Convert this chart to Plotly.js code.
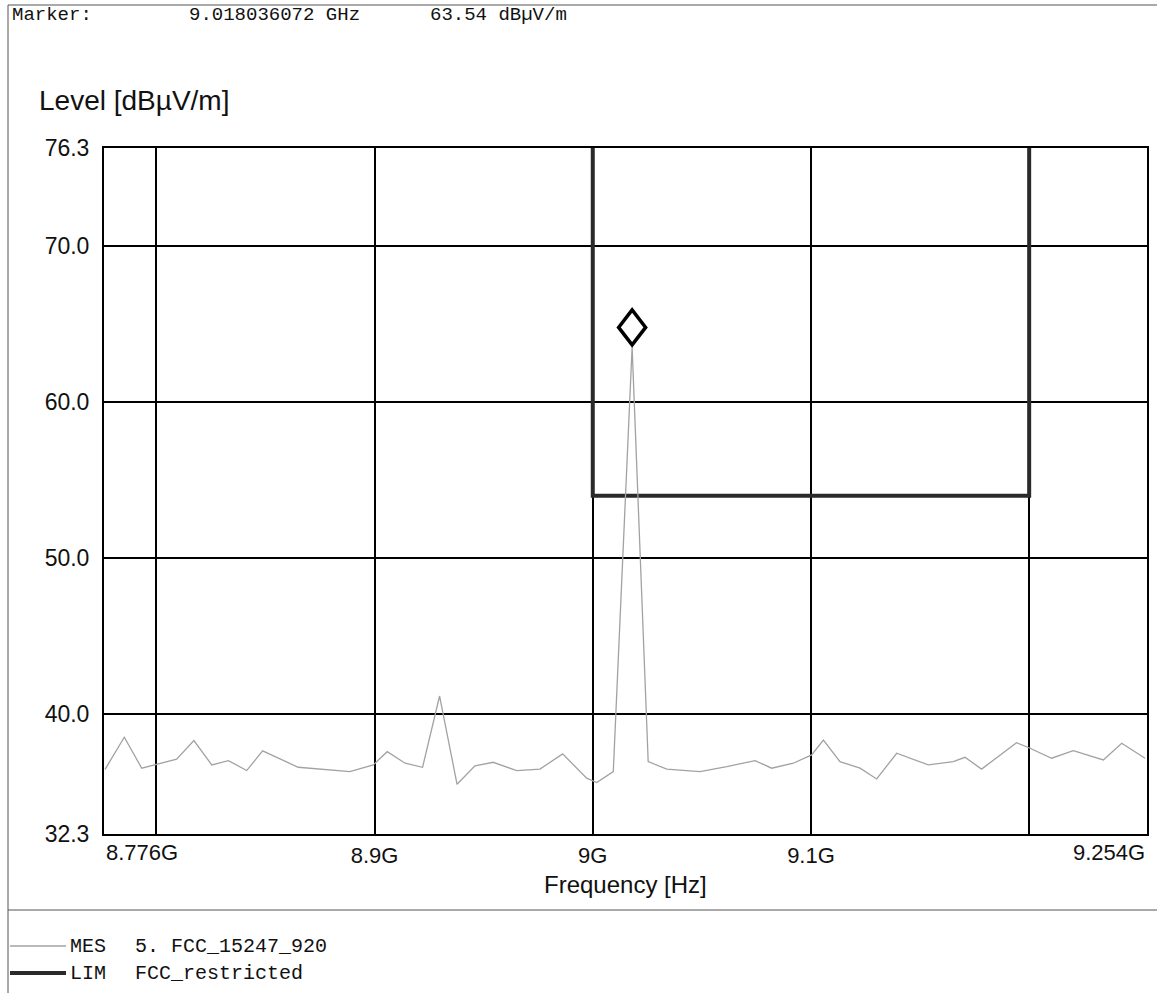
<!DOCTYPE html>
<html>
<head>
<meta charset="utf-8">
<script src="https://cdn.plot.ly/plotly-3.0.1.min.js"></script>
<style>
  html, body { margin: 0; padding: 0; background: #ffffff; }
  #chart { width: 1157px; height: 993px; }
</style>
</head>
<body>
<div id="chart"></div>
<script>
// ---- Data ----
// MES trace: frequency in GHz, level in dBµV/m
const mesFreqGHz = [
  8.7765, 8.7853, 8.7933, 8.8002, 8.8093, 8.8172, 8.8254, 8.8330, 8.8414, 8.8487,
  8.8650, 8.8887, 8.8994, 8.9058, 8.9140, 8.9220, 8.9298, 8.9378, 8.9460, 8.9544,
  8.9651, 8.9758, 8.9862, 8.9972, 9.0018, 9.0094, 9.018036072, 9.0254, 9.0339, 9.0492,
  9.0614, 9.0744, 9.0820, 9.0919, 9.1003, 9.1057, 9.1133, 9.1225, 9.1301, 9.1393,
  9.1538, 9.1652, 9.1706, 9.1782, 9.1942, 9.2004, 9.2103, 9.2202, 9.2340, 9.2424,
  9.2531
];
const mesLevel = [
  36.45, 38.51, 36.52, 36.79, 37.10, 38.29, 36.73, 37.01, 36.37, 37.63,
  36.58, 36.30, 36.73, 37.58, 36.84, 36.58, 41.15, 35.49, 36.67, 36.90,
  36.37, 36.46, 37.44, 35.88, 35.60, 36.30, 63.54, 36.94, 36.46, 36.30,
  36.62, 37.01, 36.52, 36.84, 37.37, 38.33, 36.94, 36.52, 35.83, 37.48,
  36.73, 36.94, 37.22, 36.46, 38.16, 37.80, 37.16, 37.65, 37.05, 38.12,
  37.16
];
// LIM trace: FCC restricted band limit
const limFreqGHz = [9.0, 9.0, 9.2, 9.2];
const limLevel   = [90, 54, 54, 90];

// Marker
const markerFreqGHz = 9.018036072;
const markerLevel = 63.54;
const markerText = ["Marker:", "9.018036072 GHz", "63.54 dBµV/m"];

// Axes
const xRange = [8.776, 9.254];
const yRange = [32.3, 76.3];
const xGridVals = [8.8, 8.9, 9.0, 9.1, 9.2];
const xGridText = ["", "8.9G", "9G", "9.1G", ""];
const xEdgeVals = [8.776, 9.254];
const xEdgeText = ["8.776G", "9.254G"];
const yTickVals = [32.3, 40, 50, 60, 70, 76.3];
const yTickText = ["32.3", "40.0", "50.0", "60.0", "70.0", "76.3"];

// Legend entries
const legendKind = ["MES", "LIM"];
const legendName = ["5. FCC_15247_920", "FCC_restricted"];

// ---- Layout geometry (pixels) ----
const W = 1157, H = 993;
const L = 104, R = 1147, T = 148, B = 834;
const px = x => (x - L) / (R - L);
const py = y => (B - y) / (B - T);

const SANS = "Liberation Sans, Arial, sans-serif";
const MONO = "Liberation Mono, Courier New, monospace";
const TXT = "#111111";
const MES_COLOR = "#a2a2a2";
const LIM_COLOR = "#2a2a2a";

const traces = [
  {
    x: limFreqGHz, y: limLevel, type: "scatter", mode: "lines",
    line: { color: LIM_COLOR, width: 4 }, hoverinfo: "skip", showlegend: false
  },
  {
    x: mesFreqGHz, y: mesLevel, type: "scatter", mode: "lines",
    line: { color: MES_COLOR, width: 1.3 }, showlegend: false
  }
];

const annotations = [];
// header
const headerX = [10, 187, 428];
markerText.forEach((t, i) => annotations.push({
  xref: "paper", yref: "paper", x: px(headerX[i]), y: py(15),
  xanchor: "left", yanchor: "middle", showarrow: false, text: t,
  font: { family: MONO, size: 19, color: TXT }
}));
// y title (top-left horizontal)
annotations.push({
  xref: "paper", yref: "paper", x: px(37), y: py(100), xanchor: "left", yanchor: "middle",
  showarrow: false, text: "Level [dBµV/m]", font: { family: SANS, size: 28, color: TXT }
});
// x title
annotations.push({
  xref: "paper", yref: "paper", x: 0.5, y: py(884), xanchor: "center", yanchor: "middle",
  showarrow: false, text: "Frequency [Hz]", font: { family: SANS, size: 24, color: TXT }
});
// edge x tick labels
xEdgeVals.forEach((v, i) => annotations.push({
  xref: "x", yref: "paper", x: v, y: py(852), xanchor: i === 0 ? "left" : "right", yanchor: "middle",
  showarrow: false, text: xEdgeText[i], font: { family: SANS, size: 22, color: TXT }
}));
// legend text
const legendY = [946, 973];
legendKind.forEach((k, i) => {
  annotations.push({
    xref: "paper", yref: "paper", x: px(68), y: py(legendY[i]), xanchor: "left", yanchor: "middle",
    showarrow: false, text: k, font: { family: MONO, size: 20, color: TXT }
  });
  annotations.push({
    xref: "paper", yref: "paper", x: px(133), y: py(legendY[i]), xanchor: "left", yanchor: "middle",
    showarrow: false, text: legendName[i], font: { family: MONO, size: 20, color: TXT }
  });
});

const shapes = [
  // outer frame lines
  { type: "line", xref: "paper", yref: "paper", x0: px(8), x1: px(1157), y0: py(5), y1: py(5),
    line: { color: "#555", width: 1 } },
  { type: "line", xref: "paper", yref: "paper", x0: px(8), x1: px(8), y0: py(5), y1: py(993),
    line: { color: "#555", width: 1 } },
  { type: "line", xref: "paper", yref: "paper", x0: px(8), x1: px(1157), y0: py(910), y1: py(910),
    line: { color: "#555", width: 1 } },
  // legend samples
  { type: "line", xref: "paper", yref: "paper", x0: px(10), x1: px(66), y0: py(946), y1: py(946),
    line: { color: MES_COLOR, width: 1.3 } },
  { type: "line", xref: "paper", yref: "paper", x0: px(10), x1: px(66), y0: py(973), y1: py(973),
    line: { color: LIM_COLOR, width: 4 } },
  // marker diamond, sitting on the marked point
  { type: "path", xref: "x", yref: "y", xsizemode: "pixel", ysizemode: "pixel",
    xanchor: markerFreqGHz, yanchor: markerLevel,
    path: "M0,2 L13.5,19.5 L0,37 L-13.5,19.5 Z",
    line: { color: "#000", width: 3.5 }, fillcolor: "rgba(0,0,0,0)", layer: "above" }
];

const layout = {
  width: W, height: H,
  margin: { l: L, r: W - R, t: T, b: H - B, pad: 0 },
  paper_bgcolor: "#ffffff", plot_bgcolor: "#ffffff",
  showlegend: false,
  font: { family: SANS, size: 22, color: TXT },
  xaxis: {
    range: xRange, tickmode: "array", tickvals: xGridVals, ticktext: xGridText,
    showgrid: true, gridcolor: "#000", gridwidth: 2,
    showline: true, linecolor: "#000", linewidth: 2, mirror: true,
    ticks: "", ticklabelstandoff: 1, zeroline: false,
    tickfont: { family: SANS, size: 22, color: TXT }
  },
  yaxis: {
    range: yRange, tickmode: "array", tickvals: yTickVals, ticktext: yTickText,
    showgrid: true, gridcolor: "#000", gridwidth: 2,
    showline: true, linecolor: "#000", linewidth: 2, mirror: true,
    ticks: "", ticklabelstandoff: 8, zeroline: false,
    tickfont: { family: SANS, size: 23, color: TXT }
  },
  annotations: annotations,
  shapes: shapes
};

Plotly.newPlot("chart", traces, layout, { displayModeBar: false, staticPlot: true });
</script>
</body>
</html>
